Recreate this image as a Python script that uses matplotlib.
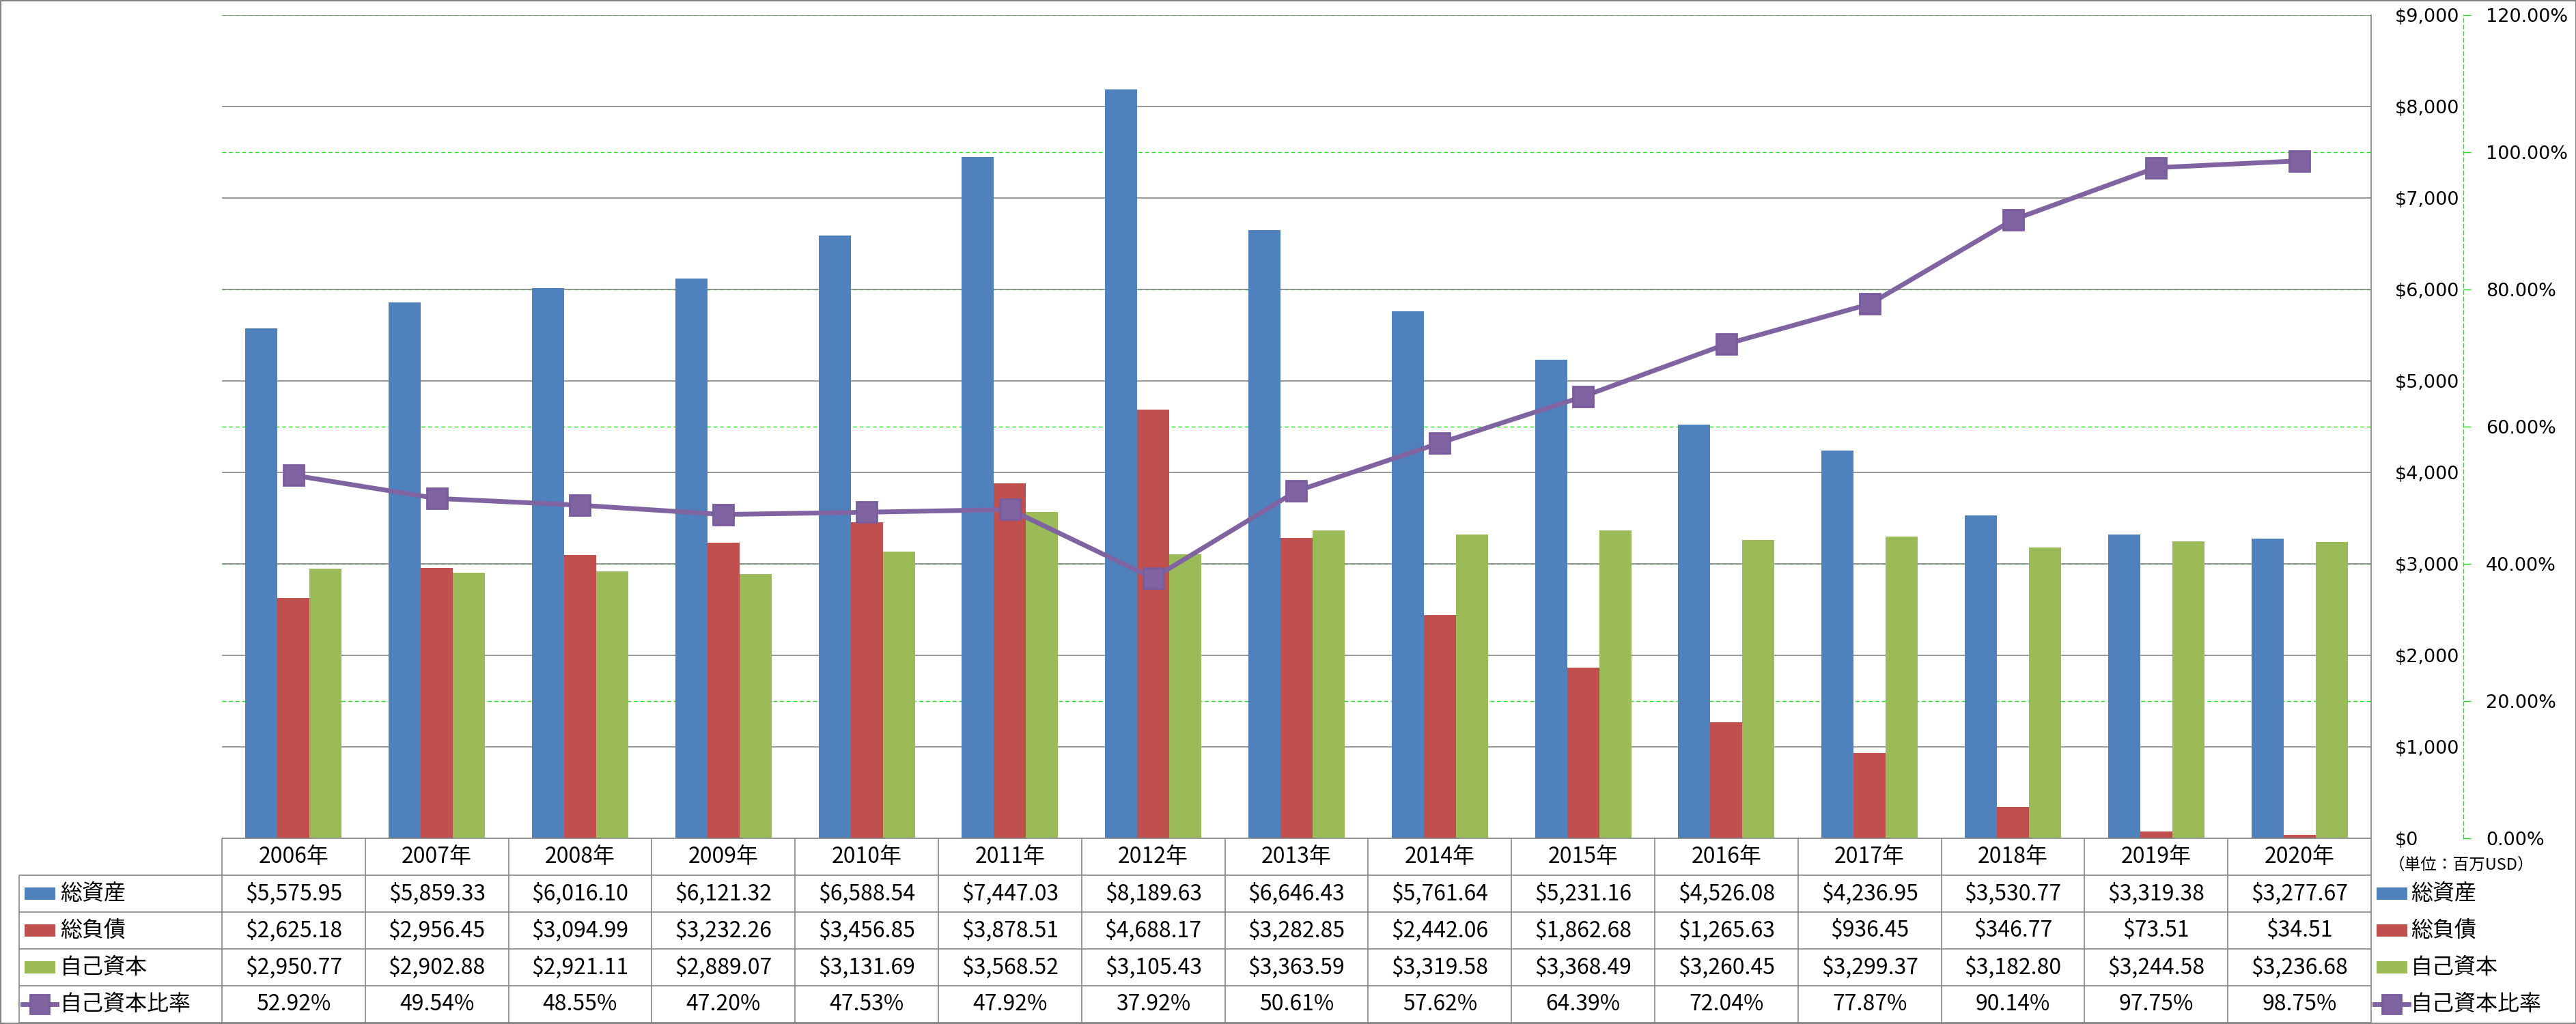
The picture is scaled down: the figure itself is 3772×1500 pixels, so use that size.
import matplotlib
matplotlib.use("Agg")
import matplotlib.pyplot as plt
from matplotlib.patches import Rectangle
from matplotlib.ticker import FuncFormatter, MultipleLocator

# data (百万USD)
years = ["2006年", "2007年", "2008年", "2009年", "2010年", "2011年", "2012年", "2013年",
         "2014年", "2015年", "2016年", "2017年", "2018年", "2019年", "2020年"]
total_assets = [5575.95, 5859.33, 6016.10, 6121.32, 6588.54, 7447.03, 8189.63, 6646.43,
                5761.64, 5231.16, 4526.08, 4236.95, 3530.77, 3319.38, 3277.67]
total_liabilities = [2625.18, 2956.45, 3094.99, 3232.26, 3456.85, 3878.51, 4688.17, 3282.85,
                     2442.06, 1862.68, 1265.63, 936.45, 346.77, 73.51, 34.51]
equity = [2950.77, 2902.88, 2921.11, 2889.07, 3131.69, 3568.52, 3105.43, 3363.59,
          3319.58, 3368.49, 3260.45, 3299.37, 3182.80, 3244.58, 3236.68]
equity_ratio = [52.92, 49.54, 48.55, 47.20, 47.53, 47.92, 37.92, 50.61,
                57.62, 64.39, 72.04, 77.87, 90.14, 97.75, 98.75]

series_names = ["総資産", "総負債", "自己資本"]
line_name = "自己資本比率"
unit_label = "（単位：百万USD）"

BLUE, RED, GREEN, PURPLE = "#4F81BD", "#C0504D", "#9BBB59", "#8064A2"
GRID = "#868686"
LIME = "#19E619"

plt.rcParams["font.family"] = ["Noto Sans CJK JP", "DejaVu Sans"]

# layout in pixels
W, H = 3773, 1500
PL, PR, PT, PB = 325, 3472, 22, 1228
TL, TB = 28, 1498
PT2PX = 100 / 72


def px_rect(l, t, r, b):
    return [l / W, 1 - b / H, (r - l) / W, (b - t) / H]


fig = plt.figure(figsize=(W / 100, H / 100), dpi=100)
fig.patch.set_facecolor("white")

x = list(range(len(years)))

# secondary axis (percent) - green dashed grid behind bars
ax_pct = fig.add_axes(px_rect(PL, PT, PR, PB), zorder=1)
ax_pct.set_xlim(-0.5, len(years) - 0.5)
ax_pct.set_ylim(0, 1.2)
ax_pct.yaxis.set_major_locator(MultipleLocator(0.2))
ax_pct.yaxis.set_major_formatter(FuncFormatter(lambda v, p: f"{v * 100:.2f}%"))
ax_pct.yaxis.tick_right()
ax_pct.set_xticks([])
for s in ["top", "left", "bottom"]:
    ax_pct.spines[s].set_visible(False)
ax_pct.spines["right"].set_position(("outward", 135 / PT2PX))
ax_pct.spines["right"].set_color(LIME)
ax_pct.spines["right"].set_linestyle((0, (4, 3)))
ax_pct.spines["right"].set_linewidth(1.0)
ax_pct.tick_params(axis="y", length=11 / PT2PX, width=1.0, color=LIME,
                   pad=22 / PT2PX, labelsize=19.5)
for lab in ax_pct.get_yticklabels():
    lab.set_family("DejaVu Sans")
ax_pct.grid(axis="y", color=LIME, linestyle=(0, (4, 3)), linewidth=1.0)

# primary axis (USD) - bars
ax = fig.add_axes(px_rect(PL, PT, PR, PB), zorder=2)
ax.patch.set_visible(False)
bw = 0.224
ax.bar([i - bw for i in x], total_assets, width=bw, color=BLUE, zorder=2)
ax.bar(x, total_liabilities, width=bw, color=RED, zorder=2)
ax.bar([i + bw for i in x], equity, width=bw, color=GREEN, zorder=2)
ax.set_xlim(-0.5, len(years) - 0.5)
ax.set_ylim(0, 9000)
ax.yaxis.set_major_locator(MultipleLocator(1000))
ax.yaxis.set_major_formatter(FuncFormatter(lambda v, p: f"${v:,.0f}"))
ax.yaxis.tick_right()
ax.set_xticks([])
ax.set_axisbelow(True)
ax.grid(axis="y", color=GRID, linewidth=1.2)
ax.tick_params(axis="y", length=0, pad=35 / PT2PX, labelsize=19.5)
for lab in ax.get_yticklabels():
    lab.set_family("DejaVu Sans")
for s in ["top", "left", "bottom"]:
    ax.spines[s].set_visible(False)
ax.spines["right"].set_color(GRID)
ax.spines["right"].set_linewidth(1.2)

# line on top of bars
ax_line = fig.add_axes(px_rect(PL, PT, PR, PB), zorder=3, sharex=ax)
ax_line.patch.set_visible(False)
ax_line.set_ylim(0, 1.2)
ax_line.plot(x, [v / 100 for v in equity_ratio], color=PURPLE, linewidth=5,
             marker="s", markersize=21, markerfacecolor=PURPLE,
             markeredgecolor="#7A5C9E", markeredgewidth=2, solid_joinstyle="round")
ax_line.axis("off")

# data table
colw = (PR - PL) / len(years)
rowh = (TB - PB) / 5
tab = fig.add_axes(px_rect(TL, PB, PR, TB), zorder=4)
x0 = -0.5 - (PL - TL) / colw
xe = len(years) - 0.5
tab.set_xlim(x0, xe)
tab.set_ylim(5, 0)
tab.axis("off")

lkw = dict(color=GRID, linewidth=1.2, clip_on=False, solid_capstyle="butt")
tab.plot([-0.5, xe], [0, 0], **lkw)
for r in range(1, 6):
    tab.plot([x0, xe], [r, r], **lkw)
for i in range(len(years) + 1):
    tab.plot([i - 0.5, i - 0.5], [0, 5], **lkw)
tab.plot([x0, x0], [1, 5], **lkw)

fs = 23
for i, yr in enumerate(years):
    tab.text(i, 0.5, yr, ha="center", va="center", fontsize=fs)
    tab.text(i, 1.5, f"${total_assets[i]:,.2f}", ha="center", va="center", fontsize=fs)
    tab.text(i, 2.5, f"${total_liabilities[i]:,.2f}", ha="center", va="center", fontsize=fs)
    tab.text(i, 3.5, f"${equity[i]:,.2f}", ha="center", va="center", fontsize=fs)
    tab.text(i, 4.5, f"{equity_ratio[i]:.2f}%", ha="center", va="center", fontsize=fs)


def legend_key(xs, row, color, is_line=False):
    if is_line:
        tab.plot([xs - 3 / colw, xs + 47 / colw], [row + 0.5, row + 0.5], color=PURPLE,
                 linewidth=5, clip_on=False)
        tab.plot([xs + 22 / colw], [row + 0.5], marker="s", markersize=20,
                 color=PURPLE, markeredgecolor="#7A5C9E", markeredgewidth=2, clip_on=False)
    else:
        kh = 18 / rowh
        tab.add_patch(Rectangle((xs, row + 0.5 - kh / 2), 45 / colw, kh,
                                facecolor=color, edgecolor="none", clip_on=False))


colors = [BLUE, RED, GREEN]
names = series_names + [line_name]
for r, name in enumerate(names):
    row = r + 1
    # left legend inside table
    legend_key(x0 + 8 / colw, row, colors[r] if r < 3 else None, is_line=(r == 3))
    tab.text(x0 + 60 / colw, row + 0.5, name, ha="left", va="center", fontsize=fs)
    # right legend
    legend_key(xe + 8 / colw, row, colors[r] if r < 3 else None, is_line=(r == 3))
    tab.text(xe + 58 / colw, row + 0.5, name, ha="left", va="center", fontsize=fs,
             clip_on=False)

tab.text(xe + 26 / colw, 0.72, unit_label, ha="left", va="center", fontsize=17,
         clip_on=False)

# chart border
fig.patches.append(Rectangle((0, 0), 1, 1, transform=fig.transFigure, fill=False,
                             edgecolor=GRID, linewidth=3))

fig.savefig("out.png", dpi=100, facecolor="white")
